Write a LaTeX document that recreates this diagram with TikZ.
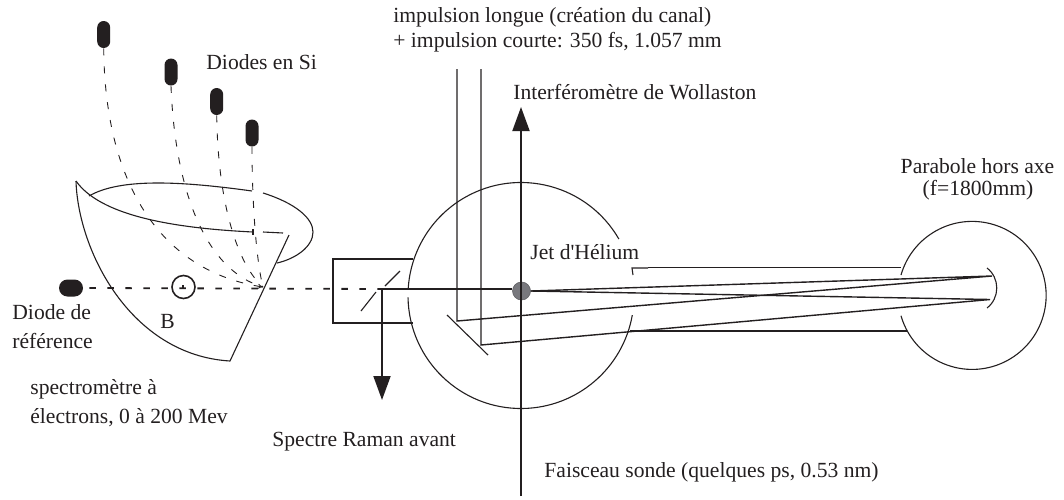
\documentclass[tikz,border=0pt]{standalone}
\usepackage{fontspec}
\setmainfont[Ligatures=TeXOff]{Liberation Serif}
\usetikzlibrary{arrows.meta,calc,positioning,shapes.misc}
\definecolor{ink}{RGB}{35,31,32}
\definecolor{jetgray}{RGB}{120,120,125}
\tikzset{
  lbl/.style={font=\fontsize{10.8}{13}\selectfont,text=ink,anchor=west,inner sep=0pt},
  diode/.style={rounded rectangle,fill=ink,inner sep=0pt,minimum width=13.5pt,minimum height=6.5pt,rotate=90},
  trace/.style={ink,line width=0.45pt,dash pattern=on 3.5pt off 5.5pt},
  refbeam/.style={ink,line width=0.9pt,dash pattern=on 3.2pt off 5.8pt},
  wire/.style={ink,line width=0.55pt},
  beam/.style={ink,line width=0.7pt},
  bigarrow/.style={ink,line width=0.95pt,-{Triangle[length=12pt,width=8.5pt]}}
}
\begin{document}
\begin{tikzpicture}[x=0.5pt,y=-0.5pt]
  \useasboundingbox (0,0) rectangle (1064,499);
  \node[diode] (d1) at (103.7,34.5) {};
  \node[diode] (d2) at (171,72) {};
  \node[diode] (d3) at (216.7,101.5) {};
  \node[diode] (d4) at (252,133) {};
  \node[rounded rectangle,fill=ink,inner sep=0pt,minimum width=12pt,minimum height=8.5pt] (dref) at (71,288) {};
  \coordinate (hit) at (263,287);
  \draw[trace,-{To[length=2.5pt,width=2.5pt]}] (d1.west) .. controls (105,190) and (165,272) .. (hit);
  \draw[trace] (d2.west) .. controls (175,190) and (205,270) .. (hit);
  \draw[trace] (d3.west) .. controls (218,205) and (238,265) .. (hit);
  \draw[trace] (d4.west) .. controls (252,200) and (256,260) .. (hit);
  \draw[wire] (76,181) .. controls (78,250) and (130,355) .. (230,361) coordinate (tipA) -- (289,235);
  \draw[wire] (76,181) .. controls (100,215) and (170,228) .. (253,232);
  \draw[wire] (253,229) -- (253,235);
  \draw[wire] (263,232) -- (283,233);
  \draw[wire] (89,196) .. controls (120,178) and (180,181) .. (252,191);
  \draw[wire] (263,193) .. controls (295,203) and (313,218) .. (313,232) .. controls (313,247) and (295,259) .. (277,263);
  \node[circle,draw=ink,line width=0.8pt,inner sep=0pt,minimum size=11.5pt] (bfield) at (183.5,287) {};
  \draw[wire] (183,288) -- (183,285);
  \coordinate (split) at (382,289);
  \draw[refbeam] (dref.east) ++(6,0) -- (split);
  \draw[wire] (413,259) -- (333,259) -- (333,323) -- (413,323);
  \draw[wire] (400,271) -- (385,286);
  \draw[wire] (376,292) -- (361,311);
  \coordinate (bigc) at (521,295.5);
  \draw[wire] ($(bigc)+(30:113 and -113)$) arc[start angle=-30,end angle=-177,radius=113];
  \draw[wire] ($(bigc)+(-181:113 and 113)$) arc[start angle=-181,end angle=-350,radius=113];
  \draw[wire] (633,275) -- (632,268) -- (648,268);
  \draw[wire] (648,267.5) -- (901,267.5);
  \draw[wire] (630,331) -- (907,331);
  \coordinate (parc) at (972,295);
  \draw[wire] (901,275) arc[start angle=-164,end angle=164,radius=74];
  \draw[wire] (987,268) .. controls (1000,278) and (1000,298) .. (987,308);
  \node[circle,fill=jetgray,draw=jetgray!80!black,line width=0.3pt,inner sep=0pt,minimum size=9pt] (jet) at (521.5,291) {};
  \coordinate (parA) at (992,276);
  \coordinate (parB) at (990,299.5);
  \coordinate (foldA) at (457,321);
  \coordinate (foldB) at (481,345);
  \draw[beam] (split) -- (split -| jet.west);
  \draw[bigarrow] (split) -- (382,400);
  \draw[bigarrow] (521,496) -- (521,107);
  \draw[beam] (jet.east) -- (parA) -- (foldA) -- (457,69);
  \draw[beam] (jet.east) -- (parB) -- (foldB) -- (481,69);
  \draw[wire] (447,315) -- (488,355);
  \node[lbl] (timp1) at (393,17) {impulsion longue (création du canal)};
  \node[lbl] (timp2) at (393,42) {+ impulsion courte: 350 fs, 1.057 mm};
  \node[lbl] (twoll) at (513,92) {Interféromètre de Wollaston};
  \node[lbl] (tsi) at (206,62) {Diodes en Si};
  \node[lbl,anchor=center] (tpar1) at (977.5,166) {Parabole hors axe};
  \node[lbl,anchor=center] (tpar2) at (978,190) {(f=1800mm)};
  \node[lbl] (tjet) at (530,252) {Jet d'Hélium};
  \node[lbl] (tref1) at (12,312) {Diode de};
  \node[lbl] (tref2) at (12,341) {référence};
  \node[lbl] (tb) at (160,321) {B};
  \node[lbl] (tsp1) at (30,389) {spectromètre à};
  \node[lbl] (tsp2) at (30,418) {électrons, 0 à 200 Mev};
  \node[lbl] (tram) at (272,442) {Spectre Raman avant};
  \node[lbl] (tson) at (544,472) {Faisceau sonde (quelques ps, 0.53 nm)};
\end{tikzpicture}
\end{document}
